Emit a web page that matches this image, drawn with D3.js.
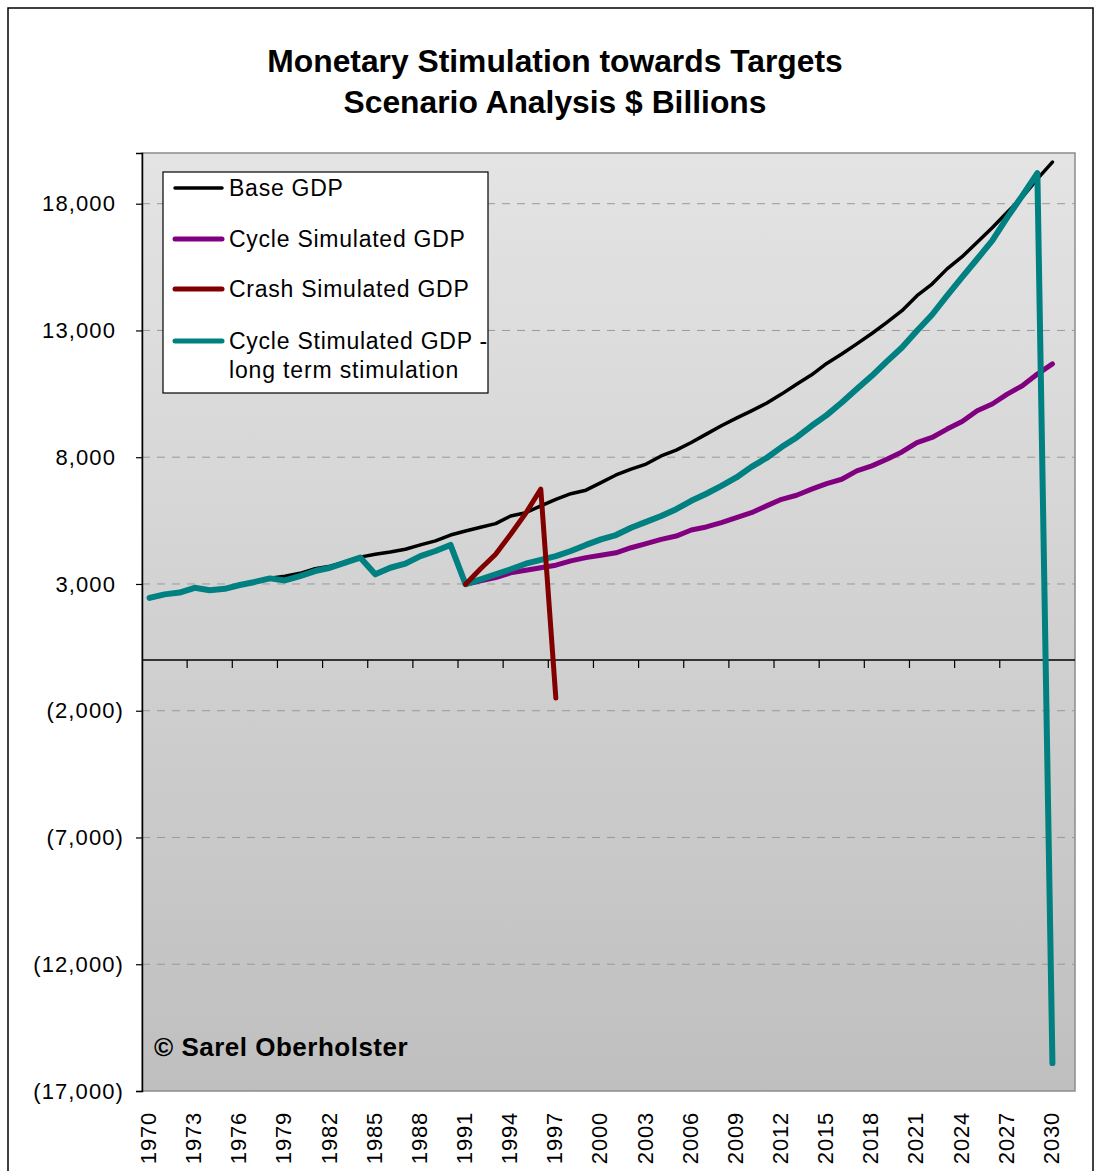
<!DOCTYPE html>
<html>
<head>
<meta charset="utf-8">
<script src="https://cdn.jsdelivr.net/npm/d3@7"></script>
<style>
  html, body { margin: 0; padding: 0; background: #ffffff; }
  svg { display: block; }
  text { font-family: "Liberation Sans", Arial, sans-serif; }
</style>
</head>
<body>
<svg id="chart" width="1095" height="1171"></svg>
<script>
// ---- Data ----
const years = d3.range(1970, 2032); // 1970..2031 (2031 is an empty category)
const xTickLabels = d3.range(1970, 2031, 3);
const yTickValues = [-17000, -12000, -7000, -2000, 3000, 8000, 13000, 18000];

const baseGDP = [2450, 2590, 2660, 2850, 2760, 2820, 2960, 3080, 3230, 3310,
  3420, 3600, 3700, 3870, 4060, 4170, 4260, 4370, 4540, 4700,
  4930, 5090, 5240, 5380, 5680, 5810, 6080, 6340, 6560, 6700,
  7000, 7300, 7530, 7730, 8050, 8280, 8580, 8910, 9240, 9540,
  9830, 10130, 10490, 10880, 11250, 11700, 12070, 12470, 12880, 13320,
  13780, 14370, 14830, 15430, 15910, 16480, 17050, 17660, 18260, 18980,
  19640];

const cycleSimulated = [null, null, null, null, null, null, null, null, null, null,
  null, null, null, null, null, null, null, null, null, null,
  null, 2990, 3120, 3250, 3440, 3540, 3640, 3740, 3910, 4040,
  4130, 4230, 4430, 4590, 4760, 4890, 5130, 5250, 5420, 5620,
  5810, 6080, 6340, 6500, 6740, 6960, 7130, 7460, 7660, 7920,
  8210, 8580, 8780, 9110, 9410, 9830, 10100, 10490, 10820, 11280,
  11680];

const crashSimulated = [null, null, null, null, null, null, null, null, null, null,
  null, null, null, null, null, null, null, null, null, null,
  null, 2990, 3600, 4170, 4960, 5790, 6740, -1500];

const cycleStimulated = [2450, 2590, 2660, 2850, 2750, 2810, 2960, 3080, 3220, 3140,
  3310, 3510, 3640, 3840, 4040, 3380, 3640, 3800, 4100, 4300,
  4540, 2990, 3180, 3380, 3580, 3800, 3950, 4100, 4300, 4540,
  4760, 4930, 5220, 5450, 5680, 5950, 6280, 6560, 6870, 7200,
  7620, 7970, 8400, 8780, 9240, 9660, 10160, 10690, 11210, 11780,
  12330, 12990, 13620, 14370, 15100, 15820, 16540, 17460, 18320, 19200,
  -15900];

const seriesNames = ["Base GDP", "Cycle Simulated GDP", "Crash Simulated GDP", "Cycle Stimulated GDP -"];
const seriesColors = ["#000000", "#800080", "#800000", "#008080"];
const seriesWidths = [3.5, 5, 5, 6];
const titleLines = ["Monetary Stimulation towards Targets", "Scenario Analysis $ Billions"];

// ---- Layout ----
const svg = d3.select("#chart");
const plot = { left: 142, right: 1075, top: 153, bottom: 1091 };

const x = d3.scaleBand().domain(years).range([plot.left, plot.right]).paddingInner(0).paddingOuter(0);
const xc = yr => x(yr) + x.bandwidth() / 2;
const y = d3.scaleLinear().domain([-17000, 20000]).range([plot.bottom, plot.top]);

// outer frame
svg.append("rect").attr("x", 8).attr("y", 8).attr("width", 1085).attr("height", 1250)
  .attr("fill", "none").attr("stroke", "#000").attr("stroke-width", 1.5);

// background gradient
const defs = svg.append("defs");
const grad = defs.append("linearGradient").attr("id", "bg").attr("x1", 0).attr("y1", 0).attr("x2", 0).attr("y2", 1);
grad.append("stop").attr("offset", "0%").attr("stop-color", "#e4e4e4");
grad.append("stop").attr("offset", "100%").attr("stop-color", "#bfbfbf");

svg.append("rect").attr("x", plot.left).attr("y", plot.top)
  .attr("width", plot.right - plot.left).attr("height", plot.bottom - plot.top)
  .attr("fill", "url(#bg)").attr("stroke", "#8c8c8c").attr("stroke-width", 1.5);

// gridlines
svg.append("g").selectAll("line").data(yTickValues.filter(v => v !== -17000)).join("line")
  .attr("x1", plot.left).attr("x2", plot.right)
  .attr("y1", d => y(d)).attr("y2", d => y(d))
  .attr("stroke", "#999").attr("stroke-width", 1).attr("stroke-dasharray", "8,7");

// y axis
const fmt = d3.format(",");
const yAxis = d3.axisLeft(y).tickValues(yTickValues).tickSize(6).tickPadding(12)
  .tickFormat(v => v < 0 ? "(" + fmt(-v) + ")" : fmt(v));
const yg = svg.append("g").attr("transform", `translate(${plot.left},0)`).call(yAxis);
yg.select(".domain").attr("stroke", "#000").attr("stroke-width", 1.5);
yg.selectAll(".tick line").attr("stroke", "#000").attr("stroke-width", 1.2);
yg.selectAll(".tick text").attr("font-size", 22).attr("fill", "#000")
  .attr("letter-spacing", 1.1)
  .attr("font-family", "Liberation Sans, Arial, sans-serif")
  .attr("dx", d => d < 0 ? 0 : -8);

// x axis line at zero
svg.append("line").attr("x1", plot.left).attr("x2", plot.right)
  .attr("y1", y(0)).attr("y2", y(0)).attr("stroke", "#000").attr("stroke-width", 1.5);
// x ticks at category boundaries, every 3 categories
svg.append("g").selectAll("line").data(xTickLabels.filter(v => v !== 1970)).join("line")
  .attr("x1", d => x(d)).attr("x2", d => x(d))
  .attr("y1", y(0)).attr("y2", y(0) + 8)
  .attr("stroke", "#000").attr("stroke-width", 1.2);

// x labels below plot
svg.append("g").selectAll("text").data(xTickLabels).join("text")
  .attr("transform", d => `translate(${xc(d) - 1},1112) rotate(-90)`)
  .attr("text-anchor", "end").attr("dominant-baseline", "central")
  .attr("letter-spacing", 0.8)
  .attr("font-size", 22).attr("fill", "#000").text(d => d);

// lines
const line = d3.line().defined(d => d[1] !== null && d[1] !== undefined)
  .x(d => xc(d[0])).y(d => y(d[1]));
const allSeries = [baseGDP, cycleSimulated, crashSimulated, cycleStimulated];
const drawOrder = [0, 1, 3, 2];
drawOrder.forEach(i => {
  const pts = allSeries[i].map((v, k) => [years[k], v]);
  svg.append("path").datum(pts).attr("d", line)
    .attr("fill", "none").attr("stroke", seriesColors[i]).attr("stroke-width", seriesWidths[i])
    .attr("stroke-linejoin", "round").attr("stroke-linecap", "round");
});

// legend
const lg = svg.append("g");
lg.append("rect").attr("x", 163).attr("y", 172).attr("width", 325).attr("height", 221)
  .attr("fill", "#fff").attr("stroke", "#000").attr("stroke-width", 1.2);
const legendY = [188, 239, 289, 341];
seriesNames.forEach((name, i) => {
  lg.append("line").attr("x1", 175).attr("x2", 222).attr("y1", legendY[i]).attr("y2", legendY[i])
    .attr("stroke", seriesColors[i]).attr("stroke-width", i === 0 ? 3.5 : 5).attr("stroke-linecap", "round");
  lg.append("text").attr("x", 229).attr("y", legendY[i] + 8).attr("font-size", 23)
    .attr("letter-spacing", 0.75).attr("fill", "#000").text(name);
});
lg.append("text").attr("x", 229).attr("y", 378).attr("font-size", 23)
  .attr("letter-spacing", 0.85).attr("fill", "#000").text("long term stimulation");

// title
svg.append("g").selectAll("text").data(titleLines).join("text")
  .attr("x", 555).attr("y", (d, i) => 72 + i * 41)
  .attr("text-anchor", "middle").attr("font-size", 31.8).attr("font-weight", "bold")
  .attr("fill", "#000").text(d => d);

// copyright
svg.append("text").attr("x", 154).attr("y", 1056).attr("font-size", 26).attr("font-weight", "bold")
  .attr("letter-spacing", 0.5)
  .attr("fill", "#000").text("\u00a9 Sarel Oberholster");
</script>
</body>
</html>
